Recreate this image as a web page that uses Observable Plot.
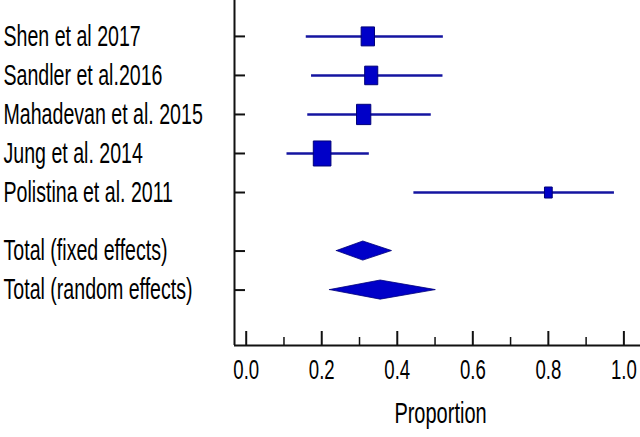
<!DOCTYPE html>
<html>
<head>
<meta charset="utf-8">
<script src="https://cdn.jsdelivr.net/npm/d3@7"></script>
<script src="https://cdn.jsdelivr.net/npm/@observablehq/plot@0.6"></script>
<style>
  html, body { margin: 0; padding: 0; background: #fff; }
  #chart { width: 640px; height: 437px; overflow: hidden; }
</style>
</head>
<body>
<div id="chart"></div>
<script>
// ---- data ----
const studyLabels = ["Shen et al 2017", "Sandler et al.2016", "Mahadevan et al. 2015", "Jung et al. 2014", "Polistina et al. 2011"];
const studyEst = [0.322, 0.331, 0.311, 0.201, 0.800];
const studyLo = [0.159, 0.173, 0.163, 0.108, 0.444];
const studyHi = [0.522, 0.521, 0.490, 0.326, 0.975];
const studyWeight = [19.3, 18.5, 22.1, 33.6, 6.5]; // % weight (random)
const studyPos = [0, 1, 2, 3, 4];

const totalLabels = ["Total (fixed effects)", "Total (random effects)"];
const totalEst = [0.310, 0.356];
const totalLo = [0.240, 0.222];
const totalHi = [0.386, 0.502];
const totalPos = [5.5, 6.5];

const xMajorTicks = [0, 0.2, 0.4, 0.6, 0.8, 1.0];
const xMinorTicks = [0.1, 0.3, 0.5, 0.7, 0.9];
const xLabel = "Proportion";

// ---- layout / style ----
const W = 640, H = 437;
const mL = 234, mR = 0, mT = 0, mB = 92;
const xDomain = [-0.031, 1.044];
const yDomain = [-0.92, 7.92];
const fillC = "#0000c8", edgeC = "#000078", lineC = "#1414a0";
const TEXT_STRETCH = 1.5;
const ASPECT = 1.42;
const diamondHalf = 0.245;

const studies = studyLabels.map((label, i) => ({label, est: studyEst[i], lo: studyLo[i], hi: studyHi[i], w: studyWeight[i], pos: studyPos[i]}));
const totals = totalLabels.map((label, i) => ({label, est: totalEst[i], lo: totalLo[i], hi: totalHi[i], pos: totalPos[i]}));
const allRows = [...studies, ...totals];
const diamondPts = totals.flatMap((t, g) => [
  {g, x: t.lo, y1: t.pos, y2: t.pos},
  {g, x: t.est, y1: t.pos - diamondHalf, y2: t.pos + diamondHalf},
  {g, x: t.hi, y1: t.pos, y2: t.pos}
]);

const rectSymbol = {
  draw(context, size) {
    const w = Math.sqrt(size / ASPECT), h = w * ASPECT;
    context.rect(-w / 2, -h / 2, w, h);
  }
};

const frameW = W - mL - mR, frameH = H - mT - mB;

const chart = Plot.plot({
  width: W, height: H,
  marginLeft: mL, marginRight: mR, marginTop: mT, marginBottom: mB,
  style: {fontFamily: "'Liberation Sans', Arial, sans-serif", background: "#fff", color: "#000"},
  x: {domain: xDomain, axis: null},
  y: {domain: yDomain, reverse: true, axis: null},
  r: {type: "sqrt", domain: [0, 100], range: [0, 20.44]},
  marks: [
    // axis lines
    Plot.ruleX([xDomain[0]], {stroke: "#111", strokeWidth: 2}),
    Plot.ruleY([yDomain[1]], {stroke: "#111", strokeWidth: 2}),
    // y ticks (inward)
    Plot.ruleY(allRows, {y: "pos", insetRight: frameW - 11, stroke: "#111", strokeWidth: 2}),
    // x ticks (inward)
    Plot.ruleX(xMajorTicks, {x: d => d, insetTop: frameH - 14, stroke: "#111", strokeWidth: 2}),
    Plot.ruleX(xMinorTicks, {x: d => d, insetTop: frameH - 8, stroke: "#111", strokeWidth: 1.5}),
    // CI lines
    Plot.ruleY(studies, {y: "pos", x1: "lo", x2: "hi", stroke: lineC, strokeWidth: 2.5}),
    // squares
    Plot.dot(studies, {x: "est", y: "pos", r: "w", symbol: rectSymbol, fill: fillC, stroke: edgeC, strokeWidth: 1}),
    // diamonds
    Plot.areaY(diamondPts, {x: "x", y1: "y1", y2: "y2", z: "g", fill: fillC, stroke: edgeC, strokeWidth: 0.8}),
    // row labels
    Plot.text(allRows, {y: "pos", text: "label", frameAnchor: "left", dx: -(mL - 3), textAnchor: "start", lineAnchor: "middle", fontSize: 19.6, fill: "#000"}),
    // x tick labels
    Plot.text(xMajorTicks, {x: d => d, text: d => d.toFixed(1), frameAnchor: "bottom", dy: 25, lineAnchor: "middle", fontSize: 18.6, fill: "#000"}),
    // x axis label
    Plot.text([xLabel], {text: d => d, frameAnchor: "bottom", dx: 3, dy: 68, lineAnchor: "middle", fontSize: 20, fill: "#000"})
  ]
});

// vertically stretch the text to match the reference's tall glyphs
chart.querySelectorAll("text").forEach(t => {
  const tr = t.getAttribute("transform");
  if (tr) {
    t.setAttribute("transform", tr + ` scale(1,${TEXT_STRETCH})`);
  } else {
    const x = t.getAttribute("x") || 0, y = t.getAttribute("y") || 0;
    t.removeAttribute("x"); t.removeAttribute("y");
    t.setAttribute("transform", `translate(${x},${y}) scale(1,${TEXT_STRETCH})`);
  }
});

document.getElementById("chart").appendChild(chart);
</script>
</body>
</html>
